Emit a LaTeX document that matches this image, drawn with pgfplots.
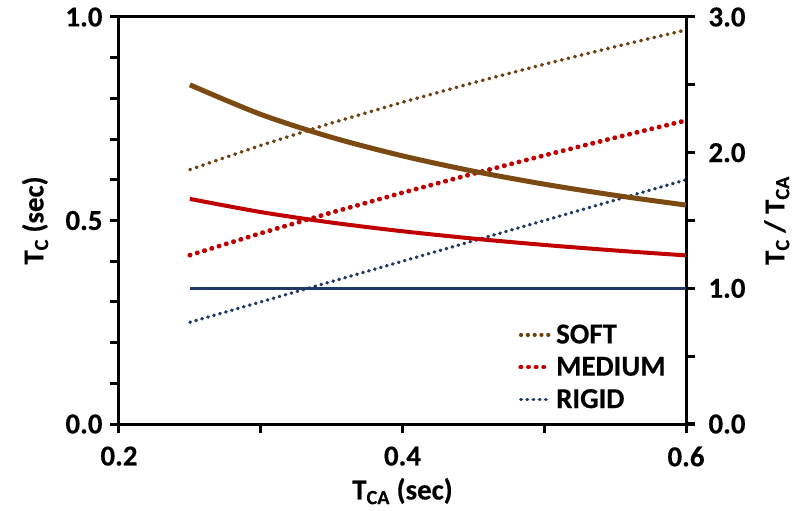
\documentclass[border=0pt]{standalone}
\usepackage{pgfplots}
\pgfplotsset{compat=1.18}
\usepackage{fontspec}
\setmainfont{Carlito}[BoldFeatures={FakeBold=0.4}]
\definecolor{cbrown}{HTML}{7B4A12}
\definecolor{cbrownd}{HTML}{6E4010}
\definecolor{cred}{HTML}{C00000}
\definecolor{cblue}{HTML}{1F3864}
\newcommand{\fnt}{\fontsize{29}{34}\selectfont\bfseries}
\begin{document}
\begin{tikzpicture}
\path[use as bounding box] (-119bp,-87bp) rectangle (689bp,424bp);
\pgfplotsset{
  common/.style={
    scale only axis, width=567bp, height=407bp,
    xmin=0.2, xmax=0.6,
    axis line style={line width=3bp, black},
    tick style={line width=3bp, black},
    tick align=outside,
    major tick length=9bp, minor tick length=9bp,
    tick label style={font=\fnt},
    label style={font=\fnt},
    /pgf/number format/assume math mode=true,
    /pgf/number format/fixed, /pgf/number format/fixed zerofill, /pgf/number format/precision=1,
  }
}
\begin{axis}[common,
  ymin=0, ymax=1,
  xtick={0.2,0.4,0.6}, minor xtick={0.3,0.5},
  ytick={0,0.5,1}, minor ytick={0.1,0.2,0.3,0.4,0.6,0.7,0.8,0.9},
  xtick pos=bottom, ytick pos=left,
  xticklabel style={yshift=-10bp},
  yticklabel style={xshift=-4bp},
  xlabel={T\textsubscript{CA} (sec)},
  ylabel={T\textsubscript{C} (sec)},
  xlabel style={at={(axis description cs:0.5,-0.165)}, anchor=center},
  ylabel style={at={(axis description cs:-0.148,0.5)}, anchor=center},
  legend style={draw=none, fill=none, font=\fnt, at={(axis description cs:0.704,0.140)}, anchor=west, inner sep=0pt, row sep=8bp,
    /tikz/every odd column/.append style={column sep=3bp}},
  legend cell align=left,
  legend image code/.code={\draw[#1] (0bp,0bp) -- (28bp,0bp);},
]
\addplot[cbrownd, line width=3.6bp, line cap=round, dash pattern=on 0.6bp off 6.2bp] coordinates {
(0.25,0.6250) (0.30,0.6847) (0.35,0.7395) (0.40,0.7906) (0.45,0.8385) (0.50,0.8839) (0.55,0.9270) (0.60,0.9682)};
\addlegendentry{SOFT}
\addplot[cred, line width=4.8bp, line cap=round, dash pattern=on 0.3bp off 7.3bp] coordinates {
(0.25,0.4148) (0.30,0.4687) (0.35,0.5196) (0.40,0.5683) (0.45,0.6150) (0.50,0.6599) (0.55,0.7035) (0.60,0.7457)};
\addlegendentry{MEDIUM}
\addplot[cblue, line width=3.4bp, line cap=round, dash pattern=on 0.6bp off 5.6bp] coordinates {
(0.25,0.25) (0.30,0.30) (0.35,0.35) (0.40,0.40) (0.45,0.45) (0.50,0.50) (0.55,0.55) (0.60,0.60)};
\addlegendentry{RIGID}
\end{axis}
\begin{axis}[common,
  ymin=0, ymax=3,
  axis x line=none, axis y line*=right,
  ytick={0,1,2,3}, minor ytick={0.5,1.5,2.5},
  yticklabel style={xshift=10bp},
  ylabel={T\textsubscript{C} / T\textsubscript{CA}},
  ylabel style={at={(axis description cs:1.16,0.5)}, anchor=center},
]
\addplot[cbrown, line width=5bp, smooth] coordinates {
(0.25,2.5000) (0.30,2.2822) (0.35,2.1129) (0.40,1.9764) (0.45,1.8634) (0.50,1.7678) (0.55,1.6855) (0.60,1.6137)};
\addplot[cred, line width=4bp, smooth] coordinates {
(0.25,1.6591) (0.30,1.5622) (0.35,1.4847) (0.40,1.4208) (0.45,1.3666) (0.50,1.3199) (0.55,1.2790) (0.60,1.2428)};
\addplot[cblue, line width=2.5bp] coordinates {
(0.25,1.0) (0.60,1.0)};
\end{axis}
\end{tikzpicture}
\end{document}
